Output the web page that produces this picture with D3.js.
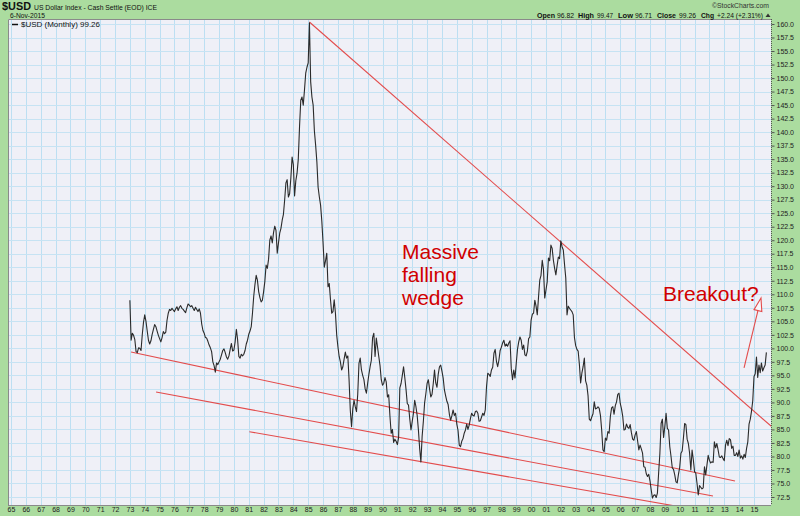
<!DOCTYPE html>
<html><head><meta charset="utf-8">
<script src="https://cdn.jsdelivr.net/npm/d3@7"></script>
<style>body{margin:0;background:#abdc9f}svg{display:block}text{font-family:"Liberation Sans",Arial,sans-serif}</style>
</head><body><svg id="c" width="800" height="516"></svg>
<script>
// ---- data (monthly closes, Jan 1973 .. Nov 2015) ----
const startYear = 1973;
const usd1970s = [
 108.9,101.5,102.8,102.4,101.6,99.4,99.2,100.1,100.0,99.6,102.5,104.8,
 106.2,105.0,103.2,101.5,100.8,101.4,102.6,103.5,104.4,104.0,103.2,102.4,
 101.8,101.2,102.0,103.1,102.7,103.0,105.2,106.5,107.2,107.0,107.4,107.1,
 106.8,107.3,107.7,107.0,107.6,107.9,107.4,107.2,106.9,106.6,107.5,108.2,
 108.0,107.7,107.9,107.4,107.0,107.6,107.2,106.8,107.3,106.5,104.5,103.3,
 102.8,102.0,101.9,101.3,100.6,100.1,99.4,97.5,96.8,95.6,97.3,97.0,
 97.5,98.0,98.8,99.6,99.9,99.2,98.4,98.0,98.6,99.8,100.9,99.5];
const usd1980s = [
 99.7,101.2,103.5,101.6,98.5,98.2,98.9,98.6,98.9,99.6,100.8,101.5,
 102.6,103.2,104.0,106.5,109.6,111.8,113.5,112.6,110.5,109.4,108.6,108.9,
 110.5,112.4,115.4,114.8,116.5,120.0,120.8,119.5,121.4,122.6,121.8,117.6,
 119.5,121.3,122.2,123.7,124.8,127.5,130.6,131.2,128.0,128.6,131.5,135.4,
 134.0,128.2,131.0,132.4,135.0,141.0,145.9,146.5,145.0,147.8,150.9,152.0,
 152.8,160.2,149.3,146.5,145.0,140.2,137.6,134.5,129.8,128.0,126.5,123.5,
 119.5,115.0,116.2,117.6,111.4,112.0,109.0,106.5,106.8,109.0,106.5,102.5,
 100.3,98.5,97.5,96.0,96.6,98.0,99.3,98.2,98.6,94.2,88.5,85.5,
 88.8,90.4,89.2,88.3,91.5,97.2,98.2,96.0,95.0,94.2,92.5,91.7,
 93.5,95.2,96.6,97.8,102.0,102.8,98.5,101.9,100.2,98.5,96.8,94.2];
const usd1990s = [
 93.2,93.5,94.6,93.8,91.0,91.4,87.5,84.3,85.0,82.6,83.2,82.8,
 82.2,83.5,92.7,93.5,95.0,96.6,94.6,92.4,89.8,89.5,87.0,84.9,
 86.5,88.0,90.4,89.2,87.6,84.9,81.5,79.0,83.7,86.5,89.9,91.6,
 93.5,94.2,92.5,91.0,91.5,93.5,96.0,93.6,92.8,95.2,96.6,96.9,
 95.8,94.5,92.3,91.2,90.2,89.6,87.8,86.7,87.5,88.6,87.6,88.0,
 86.0,84.8,82.1,81.8,82.8,83.3,84.3,84.9,86.0,85.0,85.8,87.0,
 88.0,87.6,87.5,88.3,88.4,88.0,86.5,86.6,87.3,88.0,87.6,88.6,
 92.9,95.4,95.2,94.8,96.0,96.5,99.1,99.8,97.6,96.6,97.8,99.6,
 100.2,101.0,101.5,100.4,100.8,100.4,101.0,101.4,96.2,94.2,96.0,94.5,
 97.2,99.8,101.2,102.1,101.5,99.8,100.6,98.8,98.6,99.5,101.8,102.1];
const usd2000s = [
 105.2,106.3,106.5,108.9,107.8,106.2,109.5,112.6,113.5,116.3,114.6,109.3,
 110.8,112.3,116.7,116.2,119.1,118.5,116.3,114.8,113.6,115.3,116.9,116.6,
 119.9,118.8,118.2,115.5,113.0,106.2,107.8,107.4,107.1,106.8,106.2,102.0,
 100.5,99.8,99.5,97.0,93.6,95.4,96.6,98.2,94.0,93.2,91.2,86.9,
 86.6,87.3,87.9,90.1,88.8,88.9,89.2,88.9,87.6,84.9,81.2,80.9,
 83.4,83.0,84.6,84.3,87.4,89.0,89.2,87.8,89.4,90.1,91.5,91.7,
 89.8,88.8,87.4,84.9,85.0,86.0,85.4,85.2,85.9,84.4,83.2,83.0,
 84.0,84.6,82.9,81.2,82.1,81.4,80.6,78.1,78.0,76.8,76.3,76.7,
 75.5,73.8,72.3,72.8,72.9,72.4,73.2,77.0,80.6,86.1,86.9,83.5,
 85.6,88.0,85.2,84.9,81.8,80.0,77.9,77.6,76.6,75.3,75.1,76.7];
const usd2010s = [
 78.0,80.6,81.0,83.4,86.1,85.9,83.2,82.4,80.6,77.5,81.2,79.4,
 77.2,76.9,75.0,72.9,74.6,74.3,74.0,74.2,78.1,76.6,78.4,80.2,
 79.3,78.8,79.0,78.9,82.7,81.6,82.4,81.2,79.9,79.8,80.1,79.6,
 79.2,82.1,83.0,82.0,83.3,83.1,81.5,81.9,80.2,80.2,80.7,80.0,
 81.2,79.7,80.1,79.5,80.4,79.8,81.5,82.7,86.0,86.9,88.4,90.3,
 94.8,95.3,98.4,94.6,96.9,95.5,97.3,95.8,96.4,96.9,99.26];
const usd = [...usd1970s, ...usd1980s, ...usd1990s, ...usd2000s, ...usd2010s];

const xYears = d3.range(1965, 2016);
const yTicks = d3.range(0, 36).map(i => 72.5 + i * 2.5);

// trendlines [year0, value0, year1, value1]
const wedgeLines = [
  [1985.08, 160.37, 2016.4, 85.0],
  [1973.08, 99.33, 2013.72, 75.46],
  [1974.76, 91.93, 2012.24, 72.69],
  [1981.04, 84.58, 2012.5, 69.5]
];
const arrowFrom = [2014.33, 96.37], arrowTo = [2015.47, 109.32];

const titleSym = "$USD", titleText = "US Dollar Index - Cash Settle (EOD) ICE";
const dateText = "6-Nov-2015";
// [text, bold, x, width]
const ohlcParts = [
  ["Open", true, 537, 18], ["96.82", false, 557, 17],
  ["High", true, 578, 16], ["99.47", false, 597, 16],
  ["Low", true, 618, 15], ["96.71", false, 635, 17],
  ["Close", true, 657, 19], ["99.26", false, 679, 17],
  ["Chg", true, 701, 13], ["+2.24 (+2.31%)", false, 717, 46]
];
const legendText = "$USD (Monthly) 99.26";

// ---- drawing ----
const svg = d3.select('#c');
const P = {l: 8, t: 19, r: 771, b: 505};
const x = d3.scaleLinear().domain([1965, 2015]).range([11, 754]);
const y = d3.scaleLinear().domain([72.5, 160]).range([497, 24]);
const RED = '#e34b4b', TXTRED = '#d10000';

svg.append('rect').attr('width', 800).attr('height', 516).attr('fill', '#abdc9f');
svg.append('rect').attr('x', P.l).attr('y', P.t).attr('width', P.r - P.l).attr('height', P.b - P.t).attr('fill', '#eff0f7');

svg.append('defs').append('clipPath').attr('id', 'clip')
  .append('rect').attr('x', P.l).attr('y', P.t).attr('width', P.r - P.l).attr('height', P.b - P.t);

const g = svg.append('g').attr('clip-path', 'url(#clip)');
g.selectAll('.vg').data(xYears).join('line')
  .attr('x1', d => Math.round(x(d)) + 0.5).attr('x2', d => Math.round(x(d)) + 0.5)
  .attr('y1', P.t).attr('y2', P.b).attr('stroke', '#bcdff2').attr('stroke-width', 1);
g.selectAll('.hg').data(yTicks).join('line')
  .attr('y1', d => Math.round(y(d)) + 0.5).attr('y2', d => Math.round(y(d)) + 0.5)
  .attr('x1', P.l).attr('x2', P.r).attr('stroke', '#c6e3f3').attr('stroke-width', 1);

// plot border
svg.append('path').attr('d', `M${P.l + 0.5},${P.b}V${P.t + 0.5}H${P.r}`).attr('fill', 'none').attr('stroke', '#8a8a8a');
svg.append('line').attr('x1', P.l).attr('x2', P.r).attr('y1', P.b + 0.5).attr('y2', P.b + 0.5).attr('stroke', '#8a8a8a');

// trendlines
g.selectAll('.wl').data(wedgeLines).join('line')
  .attr('x1', d => x(d[0])).attr('y1', d => y(d[1]))
  .attr('x2', d => x(d[2])).attr('y2', d => y(d[3]))
  .attr('stroke', RED).attr('stroke-width', 1.1);

// price line
const line = d3.line().x((d, i) => x(startYear + i / 12)).y(d => y(d));
g.append('path').datum(usd).attr('d', line).attr('fill', 'none')
  .attr('stroke', '#2a2a2a').attr('stroke-width', 1.1).attr('stroke-linejoin', 'round');

// arrow
{
  const x0 = x(arrowFrom[0]), y0 = y(arrowFrom[1]), x1 = x(arrowTo[0]), y1 = y(arrowTo[1]);
  const L = Math.hypot(x1 - x0, y1 - y0), ux = (x1 - x0) / L, uy = (y1 - y0) / L;
  const bx = x1 - ux * 13, by = y1 - uy * 13, nx = -uy, ny = ux;
  g.append('line').attr('x1', x0).attr('y1', y0).attr('x2', bx).attr('y2', by).attr('stroke', RED).attr('stroke-width', 1.1);
  g.append('polygon').attr('points', [[x1, y1], [bx + nx * 4, by + ny * 4], [bx - nx * 4, by - ny * 4]].map(p => p.join(',')).join(' '))
    .attr('fill', '#f7f7fb').attr('stroke', RED).attr('stroke-width', 1.1);
}

// right axis
const ya = svg.append('g').attr('transform', `translate(${P.r + 0.5},0)`)
  .call(d3.axisRight(y).tickValues(yTicks).tickFormat(d3.format('.1f')).tickSize(3).tickPadding(2));
ya.select('.domain').remove();
ya.selectAll('line').attr('stroke', '#555');
ya.selectAll('text').attr('font-size', '7px').attr('fill', '#222').attr('font-family', '"Liberation Sans",Arial,sans-serif');
svg.append('line').attr('x1', P.r + 0.5).attr('x2', P.r + 0.5).attr('y1', P.t).attr('y2', P.b)
  .attr('stroke', '#555').attr('stroke-dasharray', '1,1');

// bottom axis
const xa = svg.append('g').attr('transform', `translate(0,${P.b})`)
  .call(d3.axisBottom(x).tickValues(xYears).tickFormat(d => String(d % 100).padStart(2, '0')).tickSize(0).tickPadding(2));
xa.select('.domain').remove();
xa.selectAll('text').attr('font-size', '7px').attr('fill', '#222').attr('font-family', '"Liberation Sans",Arial,sans-serif');

// header
svg.append('text').attr('x', 2).attr('y', 10).attr('font-size', '10px').attr('font-weight', 'bold').attr('fill', '#111')
  .attr('textLength', 29).attr('lengthAdjust', 'spacingAndGlyphs').text(titleSym);
svg.append('text').attr('x', 34).attr('y', 10).attr('font-size', '8px').attr('fill', '#111')
  .attr('textLength', 123).attr('lengthAdjust', 'spacingAndGlyphs').text(titleText);
svg.append('text').attr('x', 10).attr('y', 18).attr('font-size', '7px').attr('fill', '#111')
  .attr('textLength', 35).attr('lengthAdjust', 'spacingAndGlyphs').text(dateText);
svg.append('text').attr('x', 769).attr('y', 8).attr('text-anchor', 'end').attr('font-size', '7px').attr('fill', '#333')
  .attr('textLength', 57).attr('lengthAdjust', 'spacingAndGlyphs').text('©StockCharts.com');
svg.selectAll('.ohlc').data(ohlcParts).join('text')
  .attr('x', d => d[2]).attr('y', 17.5).attr('font-size', '7px').attr('fill', '#111')
  .attr('font-weight', d => d[1] ? 'bold' : 'normal')
  .attr('textLength', d => d[3]).attr('lengthAdjust', 'spacingAndGlyphs').text(d => d[0]);
svg.append('path').attr('d', 'M765.5,17L768,13.5L770.5,17Z').attr('fill', '#333');

// legend
svg.append('line').attr('x1', 12).attr('x2', 18).attr('y1', 24.5).attr('y2', 24.5).attr('stroke', '#111').attr('stroke-width', 1.5);
svg.append('text').attr('x', 21).attr('y', 27).attr('font-size', '8px').attr('fill', '#111')
  .attr('textLength', 79).attr('lengthAdjust', 'spacingAndGlyphs').text(legendText);

// annotations
const ann = svg.append('g').attr('fill', TXTRED).attr('font-size', '21px');
[['Massive', 259], ['falling', 282], ['wedge', 305]].forEach(d => ann.append('text').attr('x', 402).attr('y', d[1]).text(d[0]));
ann.append('text').attr('x', 663).attr('y', 301).text('Breakout?');
</script>
</body></html>
